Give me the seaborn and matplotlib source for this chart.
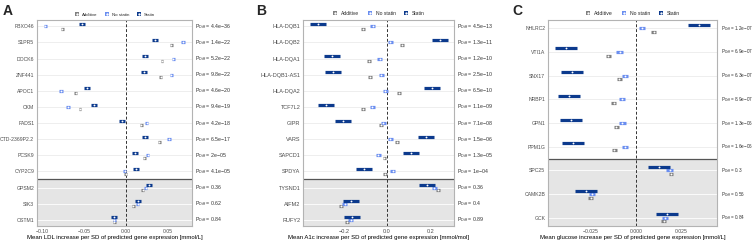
import numpy as np
import pandas as pd
import matplotlib
matplotlib.use("Agg")
import matplotlib.pyplot as plt
import matplotlib.transforms as mtransforms
import seaborn as sns
from matplotlib.lines import Line2D
from matplotlib.legend_handler import HandlerTuple

sns.set_theme(style="white")
plt.rcParams['font.family'] = ['Liberation Sans', 'DejaVu Sans']
plt.rcParams['mathtext.fontset'] = 'custom'
plt.rcParams['mathtext.rm'] = 'Liberation Sans'
plt.rcParams['mathtext.default'] = 'regular'

groups = ["Additive", "No statin", "Statin"]
colors = ["#808080", "#6a8ef0", "#0c3a8d"]
offsets = [0.15, 0.0, -0.15]

# panel A - LDL
genes_a = ["FBXO46", "S1PR5", "DOCK6", "ZNF441", "APOC1", "CKM", "FADS1",
           "CTD-2369P2.2", "PCSK9", "CYP2C9", "GPSM2", "SIK3", "OSTM1"]
statin_a = [-0.0524, 0.0349, 0.0230, 0.0214, -0.0460, -0.0385, -0.0048,
            0.0222, 0.0111, 0.0123, 0.0270, 0.0147, -0.0143]
nostatin_a = [-0.0960, 0.0680, 0.0563, 0.0540, -0.0774, -0.0690, 0.0246,
              0.0510, 0.0258, -0.0016, 0.0234, 0.0139, -0.0140]
additive_a = [-0.0758, 0.0540, 0.0429, 0.0413, -0.0600, -0.0548, 0.0182,
              0.0397, 0.0218, -0.0004, 0.0198, 0.0087, -0.0140]
pdiff_a = ["4.4e−36", "1.4e−22", "5.2e−22", "9.8e−22", "4.6e−20", "9.4e−19",
           "4.2e−18", "6.5e−17", "2e−05", "4.1e−05", "0.36", "0.62", "0.84"]
halfwidth_a = [0.0016, 0.0020, 0.0036]

# panel B - A1c
genes_b = ["HLA-DQB1", "HLA-DQB2", "HLA-DQA1", "HLA-DQB1-AS1", "HLA-DQA2",
           "TCF7L2", "GIPR", "VARS", "SAPCD1", "SPDYA", "TYSND1", "AIFM2", "RUFY2"]
statin_b = [-0.320, 0.246, -0.255, -0.248, 0.206, -0.280, -0.203, 0.180,
            0.109, -0.108, 0.186, -0.168, -0.162]
nostatin_b = [-0.065, 0.015, -0.034, -0.026, -0.008, -0.069, -0.018, 0.015,
              -0.040, 0.026, 0.218, -0.195, -0.168]
additive_b = [-0.112, 0.069, -0.083, -0.079, 0.054, -0.112, -0.026, 0.046,
              -0.012, -0.008, 0.234, -0.214, -0.186]
pdiff_b = ["4.5e−13", "1.3e−11", "1.2e−10", "2.5e−10", "6.5e−10", "1.1e−09",
           "7.1e−08", "1.5e−06", "1.3e−05", "1e−04", "0.36", "0.4", "0.89"]
halfwidth_b = [0.009, 0.0115, 0.037]

# panel C - glucose
genes_c = ["NHLRC2", "VTI1A", "SNX17", "NRBP1", "GPN1", "PPM1G",
           "SPC25", "CAMK2B", "GCK"]
statin_c = [0.0345, -0.0385, -0.0352, -0.0368, -0.0360, -0.0348,
            0.0126, -0.0276, 0.0170]
nostatin_c = [0.0033, -0.0090, -0.0060, -0.0077, -0.0075, -0.0062,
              0.0185, -0.0243, 0.0159]
additive_c = [0.0097, -0.0152, -0.0093, -0.0124, -0.0108, -0.0119,
              0.0192, -0.0250, 0.0152]
pdiff_c = ["1.2e−07", "6.9e−07", "6.3e−07", "8.9e−07", "1.3e−06", "1.6e−06",
           "0.3", "0.56", "0.84"]
halfwidth_c = [0.0013, 0.0018, 0.0060]


def draw_panel(ax, genes, add, nos, sta, hw, pvals, n_sig, xlim, ticks,
               ticklabels, xlabel, pad, fs, pfs, legfs):
    n = len(genes)
    rows = []
    for gi, (grp, vals) in enumerate(zip(groups, [add, nos, sta])):
        for i, v in enumerate(vals):
            rows.append(dict(gene=genes[i], pos=i + offsets[gi], beta=v,
                             group=grp, lo=v - hw[gi], hi=v + hw[gi]))
    df = pd.DataFrame(rows)

    ax.axhspan(n_sig - 0.5, n - 1 + pad, color="#e5e5e5", zorder=0, lw=0)
    for i in range(n):
        ax.axhline(i, color="#ebebeb" if i < n_sig else "white", lw=0.6, zorder=0.5)
    ax.axhline(n_sig - 0.5, color="#555555", lw=0.9, zorder=1)
    ax.axvline(0, ls=(0, (3, 2)), color="#333333", lw=0.7, zorder=1)

    for grp, col in zip(groups, colors):
        d = df[df.group == grp]
        ax.hlines(d.pos, d.lo, d.hi, color=col, lw=2.3, zorder=3)
    sns.scatterplot(data=df, x="beta", y="pos", color="white", s=1.8,
                    linewidth=0, ax=ax, zorder=4, legend=False)

    ax.set_xlim(*xlim)
    ax.set_ylim(n - 1 + pad, -pad)
    ax.set_yticks(range(n))
    ax.set_yticklabels(genes)
    ax.set_xticks(ticks)
    ax.set_xticklabels(ticklabels)
    ax.set_xlabel(xlabel, fontsize=4.3, labelpad=1.0, color="black")
    ax.set_ylabel("")
    ax.tick_params(axis="both", length=1.3, width=0.5, color="#333333",
                   labelsize=fs, labelcolor="#4d4d4d", pad=0.6)
    for s in ax.spines.values():
        s.set_color("#b3b3b3")
        s.set_linewidth(0.8)

    trans = mtransforms.blended_transform_factory(ax.transAxes, ax.transData)
    for i, p in enumerate(pvals):
        ax.text(1.022, i, r"$P_{Diff}$ = " + p, transform=trans, fontsize=pfs,
                va="center", ha="left", color="#333333")

    handles = [(Line2D([], [], marker="s", ls="", markersize=legfs * 0.9, color=c,
                       markeredgewidth=0),
                Line2D([], [], marker="o", ls="", markersize=0.7, color="white"))
               for c in colors]
    ax.legend(handles, groups, handler_map={tuple: HandlerTuple(ndivide=1)},
              ncol=3, loc="lower center", bbox_to_anchor=(0.5, 1.0),
              frameon=False, fontsize=legfs, handlelength=1.3, columnspacing=1.5,
              handletextpad=0.5, borderaxespad=0.4)


fig = plt.figure(figsize=(7.53, 2.42), dpi=100)
ax_a = fig.add_axes([0.0491, 0.066, 0.2059, 0.851])
ax_b = fig.add_axes([0.4024, 0.066, 0.2005, 0.851])
ax_c = fig.add_axes([0.7278, 0.066, 0.2244, 0.851])

draw_panel(ax_a, genes_a, additive_a, nostatin_a, statin_a, halfwidth_a, pdiff_a,
           10, (-0.106, 0.0786), [-0.10, -0.05, 0.0, 0.05],
           ["−0.10", "−0.05", "0.00", "0.05"],
           "Mean LDL increase per SD of predicted gene expression [mmol/L]", 0.39,
           3.7, 3.8, 3.2)
draw_panel(ax_b, genes_b, additive_b, nostatin_b, statin_b, halfwidth_b, pdiff_b,
           10, (-0.388, 0.309), [-0.2, 0.0, 0.2], ["−0.2", "0.0", "0.2"],
           "Mean A1c increase per SD of predicted gene expression [mmol/mol]", 0.39,
           4.0, 3.8, 3.6)
draw_panel(ax_c, genes_c, additive_c, nostatin_c, statin_c, halfwidth_c, pdiff_c,
           6, (-0.0484, 0.0445), [-0.025, 0.0, 0.025], ["−0.025", "0.000", "0.025"],
           "Mean glucose increase per SD of predicted gene expression [mmol/L]", 0.35,
           3.7, 3.3, 3.7)

for x, lab in [(0.003, "A"), (0.340, "B"), (0.681, "C")]:
    fig.text(x, 0.985, lab, fontsize=10, fontweight="bold", va="top", ha="left")

plt.savefig("out.png", dpi=100)
